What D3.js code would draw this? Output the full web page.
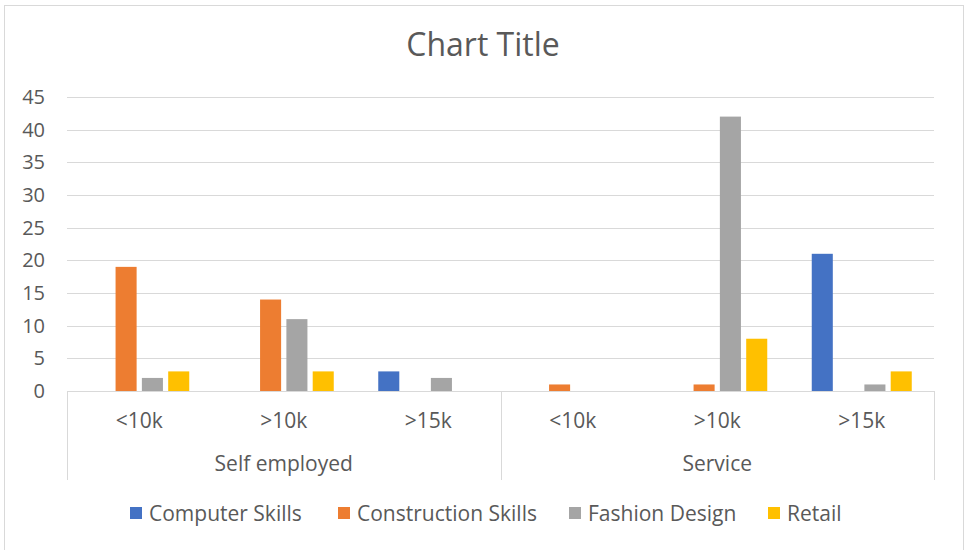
<!DOCTYPE html>
<html>
<head>
<meta charset="utf-8">
<script src="https://cdn.jsdelivr.net/npm/d3@7"></script>
<style>
  body { margin: 0; background: #fff; }
  text { font-family: "Open Sans", sans-serif; fill: #595959; }
</style>
</head>
<body>
<svg id="chart" width="965" height="550"></svg>
<script>
// data
const groups = ['Self employed', 'Service'];
const subCats = ['<10k', '>10k', '>15k'];
const seriesNames = ['Computer Skills', 'Construction Skills', 'Fashion Design', 'Retail'];
const computerSkills     = [0, 0, 3, 0, 0, 21];
const constructionSkills = [19, 14, 0, 1, 1, 0];
const fashionDesign      = [2, 11, 2, 0, 42, 1];
const retail             = [3, 3, 0, 0, 8, 3];
const yTicks = [0, 5, 10, 15, 20, 25, 30, 35, 40, 45];

const seriesVals = [computerSkills, constructionSkills, fashionDesign, retail];
const colors = ['#4472C4', '#ED7D31', '#A5A5A5', '#FFC000'];

let plotL = 67, plotR = 934, plotT = 97, plotB = 391

const svg = d3.select('#chart');

// outer border
svg.append('rect')
    .attr('x', 4.5).attr('y', 5.5)
    .attr('width', 959).attr('height', 548)
    .attr('fill', 'none').attr('stroke', '#d9d9d9');

svg.append('text')
    .attr('x', 483).attr('y', 56)
    .attr('text-anchor', 'middle')
    .style('font-size', '32px')
    .text('Chart Title');

// flat list of category slots: group + sub category
const slots = [];
groups.forEach(g => subCats.forEach(s => slots.push({ group: g, sub: s })));

const x0 = d3.scaleBand().domain(d3.range(slots.length)).range([plotL, plotR]).padding(0);
const spread = 100;
const x1 = d3.scaleBand().domain(d3.range(seriesNames.length))
    .range([(x0.bandwidth() - spread) / 2, (x0.bandwidth() + spread) / 2])
    .paddingInner(0.2);

const y = d3.scaleLinear().domain([0, 45]).range([plotB, plotT]);

// gridlines
svg.append('g').selectAll('line')
    .data(yTicks.filter(t => t > 0))
    .enter().append('line')
    .attr('x1', plotL).attr('x2', plotR)
    .attr('y1', d => Math.round(y(d)) + 0.5).attr('y2', d => Math.round(y(d)) + 0.5)
    .attr('stroke', '#d9d9d9');

// y labels
svg.append('g').selectAll('text')
    .data(yTicks)
    .enter().append('text')
    .attr('x', 45).attr('y', d => y(d) + 7)
    .attr('text-anchor', 'end')
    .style('font-size', '20px')
    .text(d => d);

// bars
seriesVals.forEach((vals, si) => {
    svg.append('g').selectAll('rect')
        .data(vals)
        .enter().append('rect')
        .attr('x', (d, i) => x0(i) + x1(si))
        .attr('width', x1.bandwidth())
        .attr('y', d => y(d))
        .attr('height', d => plotB - y(d))
        .attr('fill', colors[si]);
});

// category axis
const axisG = svg.append('g').attr('stroke', '#d9d9d9').attr('fill', 'none');
axisG.append('line')
    .attr('x1', plotL).attr('x2', plotR + 0.5)
    .attr('y1', plotB + 0.5).attr('y2', plotB + 0.5);
[0, 3, 6].forEach(i => {
    let xx = i < slots.length ? x0(i) : plotR;
    axisG.append('line')
        .attr('x1', Math.round(xx) + 0.5).attr('x2', Math.round(xx) + 0.5)
        .attr('y1', plotB).attr('y2', 480);
});

svg.append('g').selectAll('text')
    .data(slots)
    .enter().append('text')
    .attr('x', (d, i) => x0(i) + x0.bandwidth() / 2)
    .attr('y', 428)
    .attr('text-anchor', 'middle')
    .style('font-size', '21px')
    .text(d => d.sub);

svg.append('g').selectAll('text')
    .data(groups)
    .enter().append('text')
    .attr('x', (d, i) => x0(i * 3) + x0.bandwidth() * 1.5)
    .attr('y', 471)
    .attr('text-anchor', 'middle')
    .style('font-size', '21px')
    .text(d => d);

// legend
const legendX = [130, 338, 569, 768];
const legend = svg.append('g').selectAll('g')
    .data(seriesNames)
    .enter().append('g')
    .attr('transform', (d, i) => `translate(${legendX[i]},513)`);
legend.append('rect')
    .attr('x', 0).attr('y', -6).attr('width', 12).attr('height', 12)
    .attr('fill', (d, i) => colors[i]);
legend.append('text')
    .attr('x', 19).attr('y', 8)
    .style('font-size', '21px')
    .text(d => d);
</script>
</body>
</html>
